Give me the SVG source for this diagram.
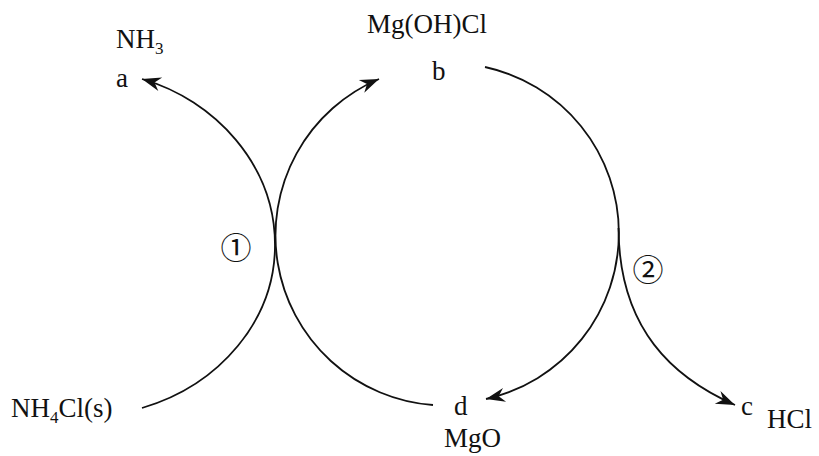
<svg xmlns="http://www.w3.org/2000/svg" width="819" height="456" viewBox="0 0 819 456">
<style>
.t{font-family:"Liberation Serif","Times New Roman",serif;font-size:27px;fill:#111}
.c{font-family:"Noto Sans CJK SC","DejaVu Sans",sans-serif;font-size:31px;fill:#111}
.ln{fill:none;stroke:#111;stroke-width:1.8}
</style>
<defs>
<marker id="ah" markerWidth="24" markerHeight="16" viewBox="-20 -8 24 16" refX="0" refY="0" orient="auto" markerUnits="userSpaceOnUse">
<path d="M0,0 L-19,-7 L-13,0 L-19,7 Z" fill="#111"/>
</marker>
</defs>
<g id="connectors">
<path class="ln" d="M142,408 C220,385 275,320 275,245 C275,165 215,100 142,79" marker-end="url(#ah)"/>
<path class="ln" d="M433,405 A170,170 0 0 1 379,79" marker-end="url(#ah)"/>
<path class="ln" d="M485,67 A170,170 0 0 1 486,399" marker-end="url(#ah)"/>
<path class="ln" d="M618.5,228 C619,330 674,378 735,405" marker-end="url(#ah)"/>
</g>
<g id="node-a">
<text class="t" x="116" y="48">NH<tspan font-size="17" dy="6">3</tspan></text>
<text class="t" x="116" y="87">a</text>
</g>
<g id="node-b">
<text class="t" x="367" y="33">Mg(OH)Cl</text>
<text class="t" x="432" y="80">b</text>
</g>
<g id="node-c">
<text class="t" x="741" y="415">c</text>
<text class="t" x="767" y="428">HCl</text>
</g>
<g id="node-d">
<text class="t" x="454" y="415">d</text>
<text class="t" x="444" y="447">MgO</text>
</g>
<g id="node-nh4cl">
<text class="t" x="11" y="417">NH<tspan font-size="17" dy="6">4</tspan><tspan dy="-6">Cl(s)</tspan></text>
</g>
<g id="step1"><text class="c" x="236" y="259" text-anchor="middle">①</text></g>
<g id="step2"><text class="c" x="648" y="281" text-anchor="middle">②</text></g>
</svg>
